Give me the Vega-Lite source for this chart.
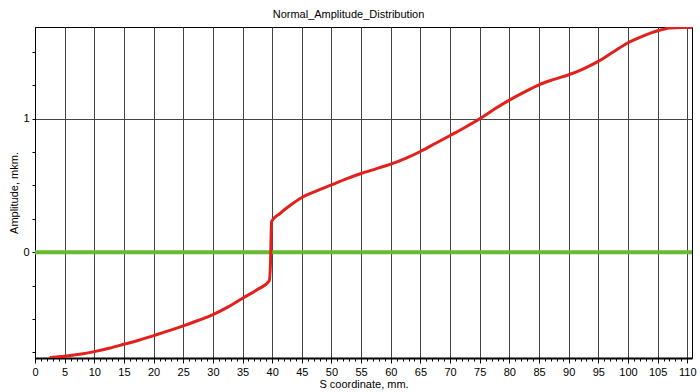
{
  "$schema": "https://vega.github.io/schema/vega-lite/v6.json",
  "width": 657,
  "height": 331,
  "autosize": "none",
  "padding": {"left": 35, "top": 27, "right": 8, "bottom": 34},
  "background": "#ffffff",
  "title": {
    "text": "Normal_Amplitude_Distribution",
    "font": "Liberation Sans",
    "fontSize": 11,
    "fontWeight": "normal",
    "color": "#000000",
    "offset": 7,
    "dx": -15
  },
  "config": {
    "view": {"stroke": "#000000", "strokeWidth": 1},
    "axis": {
      "labelFont": "Liberation Sans",
      "labelFontSize": 11,
      "labelColor": "#000000",
      "titleFont": "Liberation Sans",
      "titleFontSize": 11,
      "titleFontWeight": "normal",
      "titleColor": "#000000",
      "domainColor": "#000000",
      "tickColor": "#000000",
      "gridColor": "#444444",
      "gridWidth": 1
    }
  },
  "data": {
    "values": [
      {"s": "baseline", "x": 0, "y": 0},
      {"s": "baseline", "x": 110.8, "y": 0},
      {"s": "curve", "x": 2.5, "y": -0.79},
      {"s": "curve", "x": 5, "y": -0.78},
      {"s": "curve", "x": 7.5, "y": -0.765},
      {"s": "curve", "x": 10, "y": -0.745},
      {"s": "curve", "x": 12.5, "y": -0.72},
      {"s": "curve", "x": 15, "y": -0.69},
      {"s": "curve", "x": 17.5, "y": -0.66},
      {"s": "curve", "x": 20, "y": -0.625},
      {"s": "curve", "x": 22.5, "y": -0.59},
      {"s": "curve", "x": 25, "y": -0.552},
      {"s": "curve", "x": 27.5, "y": -0.512},
      {"s": "curve", "x": 30, "y": -0.468},
      {"s": "curve", "x": 32.5, "y": -0.412},
      {"s": "curve", "x": 35, "y": -0.345},
      {"s": "curve", "x": 37.5, "y": -0.28},
      {"s": "curve", "x": 39.5, "y": -0.215},
      {"s": "curve", "x": 39.7, "y": -0.1},
      {"s": "curve", "x": 39.9, "y": 0.23},
      {"s": "curve", "x": 41.3, "y": 0.29},
      {"s": "curve", "x": 43, "y": 0.35},
      {"s": "curve", "x": 45, "y": 0.41},
      {"s": "curve", "x": 47.5, "y": 0.46},
      {"s": "curve", "x": 50, "y": 0.505},
      {"s": "curve", "x": 52.5, "y": 0.55},
      {"s": "curve", "x": 55, "y": 0.59},
      {"s": "curve", "x": 57.5, "y": 0.625},
      {"s": "curve", "x": 60, "y": 0.66},
      {"s": "curve", "x": 62.5, "y": 0.703},
      {"s": "curve", "x": 65, "y": 0.755},
      {"s": "curve", "x": 67.5, "y": 0.815},
      {"s": "curve", "x": 70, "y": 0.875},
      {"s": "curve", "x": 72.5, "y": 0.935},
      {"s": "curve", "x": 75, "y": 1.0},
      {"s": "curve", "x": 77.5, "y": 1.073},
      {"s": "curve", "x": 80, "y": 1.14},
      {"s": "curve", "x": 82.5, "y": 1.2},
      {"s": "curve", "x": 85, "y": 1.255},
      {"s": "curve", "x": 87.5, "y": 1.295},
      {"s": "curve", "x": 90, "y": 1.33},
      {"s": "curve", "x": 92.5, "y": 1.375},
      {"s": "curve", "x": 95, "y": 1.43},
      {"s": "curve", "x": 97.5, "y": 1.5},
      {"s": "curve", "x": 100, "y": 1.57},
      {"s": "curve", "x": 102.5, "y": 1.62},
      {"s": "curve", "x": 105, "y": 1.66},
      {"s": "curve", "x": 107, "y": 1.68},
      {"s": "curve", "x": 109, "y": 1.685},
      {"s": "curve", "x": 110.8, "y": 1.685}
    ]
  },
  "mark": {"type": "line", "clip": true, "interpolate": "monotone"},
  "encoding": {
    "x": {
      "field": "x",
      "type": "quantitative",
      "scale": {"domain": [0, 110.8], "nice": false, "zero": false},
      "axis": {
        "values": [0,1,2,3,4,5,6,7,8,9,10,11,12,13,14,15,16,17,18,19,20,21,22,23,24,25,26,27,28,29,30,31,32,33,34,35,36,37,38,39,40,41,42,43,44,45,46,47,48,49,50,51,52,53,54,55,56,57,58,59,60,61,62,63,64,65,66,67,68,69,70,71,72,73,74,75,76,77,78,79,80,81,82,83,84,85,86,87,88,89,90,91,92,93,94,95,96,97,98,99,100,101,102,103,104,105,106,107,108,109,110],
        "labelExpr": "datum.value % 5 === 0 ? format(datum.value, 'd') : ''",
        "labelOverlap": false,
        "labelFlush": false,
        "labelPadding": 3,
        "domainWidth": 2,
        "tickSize": {"condition": {"test": "datum.value % 5 === 0", "value": 5}, "value": 3},
        "grid": true,
        "gridOpacity": {"condition": {"test": "datum.value % 5 === 0 && datum.value > 0", "value": 1}, "value": 0},
        "title": "S coordinate, mm.",
        "titlePadding": 1
      }
    },
    "y": {
      "field": "y",
      "type": "quantitative",
      "scale": {"domain": [-0.793, 1.688], "nice": false, "zero": false},
      "axis": {
        "values": [-0.75, -0.5, -0.25, 0, 0.25, 0.5, 0.75, 1, 1.25, 1.5],
        "labelExpr": "datum.value % 1 === 0 ? format(datum.value, 'd') : ''",
        "labelOverlap": false,
        "labelFlush": false,
        "labelPadding": 3,
        "tickSize": 3,
        "domainWidth": 1,
        "grid": true,
        "gridOpacity": {"condition": {"test": "datum.value === 1", "value": 1}, "value": 0},
        "title": "Amplitude, mkm.",
        "titlePadding": 3
      }
    },
    "color": {
      "field": "s",
      "type": "nominal",
      "scale": {"domain": ["baseline", "curve"], "range": ["#66bb33", "#e3201b"]},
      "legend": null
    },
    "strokeWidth": {
      "field": "s",
      "type": "nominal",
      "scale": {"domain": ["baseline", "curve"], "range": [4, 3]},
      "legend": null
    }
  }
}
